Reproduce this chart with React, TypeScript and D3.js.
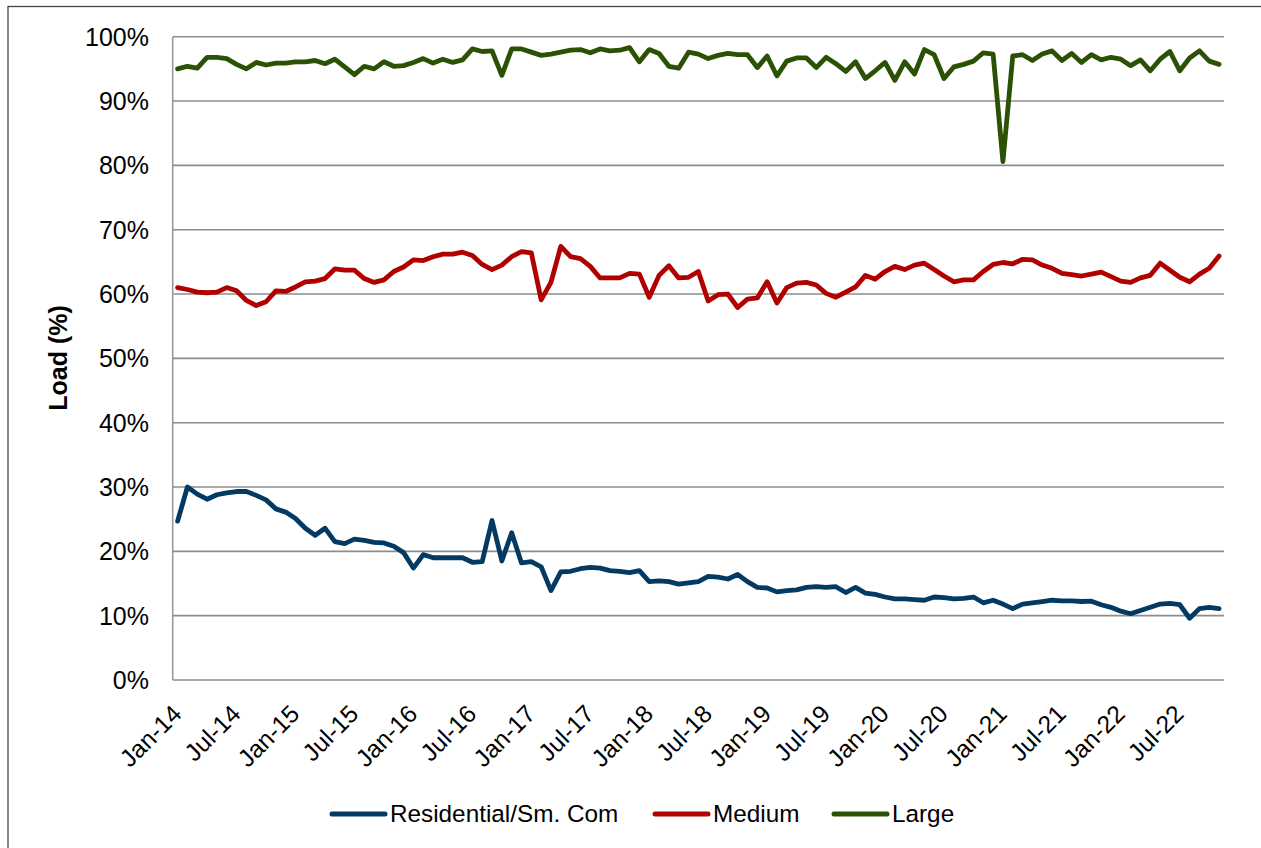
import React from "react";
import * as d3 from "d3";

const months: Date[] = d3.timeMonth.range(new Date(2014, 0, 1), new Date(2022, 11, 1));

const residential: number[] = [
  24.7, 30.0, 28.9, 28.1, 28.8, 29.1, 29.3, 29.3, 28.7, 28.0, 26.6, 26.1,
  25.1, 23.6, 22.5, 23.6, 21.5, 21.2, 21.9, 21.7, 21.4, 21.3, 20.8, 19.8,
  17.4, 19.5, 19.0, 19.0, 19.0, 19.0, 18.3, 18.4, 24.8, 18.5, 22.9, 18.2,
  18.4, 17.6, 13.9, 16.8, 16.9, 17.3, 17.5, 17.4, 17.0, 16.9, 16.7, 17.0,
  15.3, 15.4, 15.3, 14.9, 15.1, 15.3, 16.1, 16.0, 15.7, 16.4, 15.3, 14.4,
  14.3, 13.7, 13.9, 14.0, 14.4, 14.5, 14.4, 14.5, 13.6, 14.4, 13.5, 13.3,
  12.9, 12.6, 12.6, 12.5, 12.4, 12.9, 12.8, 12.6, 12.7, 12.9, 12.0, 12.4,
  11.8, 11.1, 11.8, 12.0, 12.2, 12.4, 12.3, 12.3, 12.2, 12.25, 11.7, 11.3,
  10.7, 10.3, 10.8, 11.3, 11.8, 11.9, 11.7, 9.6, 11.1, 11.3, 11.1,
];

const medium: number[] = [
  61.0, 60.7, 60.3, 60.2, 60.3, 61.0, 60.5, 59.0, 58.2, 58.8, 60.5, 60.4,
  61.1, 61.9, 62.0, 62.4, 63.9, 63.7, 63.7, 62.4, 61.8, 62.2, 63.5, 64.2,
  65.3, 65.2, 65.8, 66.2, 66.2, 66.5, 66.0, 64.6, 63.8, 64.5, 65.8, 66.6,
  66.4, 59.1, 61.8, 67.4, 65.8, 65.5, 64.3, 62.5, 62.5, 62.5, 63.2, 63.1,
  59.5, 62.9, 64.4, 62.5, 62.6, 63.5, 58.9, 59.9, 60.0, 57.9, 59.2, 59.4,
  61.9, 58.6, 61.0, 61.7, 61.8, 61.4, 60.1, 59.5, 60.3, 61.1, 62.9, 62.3,
  63.5, 64.3, 63.8, 64.5, 64.8, 63.8, 62.8, 61.9, 62.2, 62.2, 63.5, 64.6,
  64.9, 64.7, 65.4, 65.3, 64.5, 64.0, 63.2, 63.0, 62.8, 63.1, 63.4, 62.7,
  62.0, 61.8, 62.5, 62.9, 64.8, 63.7, 62.6, 61.9, 63.1, 64.0, 65.9,
];

const large: number[] = [
  95.0, 95.4, 95.1, 96.8, 96.8, 96.6, 95.7, 95.0, 96.0, 95.6, 95.9, 95.9,
  96.1, 96.1, 96.3, 95.8, 96.5, 95.3, 94.1, 95.4, 95.0, 96.1, 95.4, 95.5,
  96.0, 96.6, 95.9, 96.5, 96.0, 96.4, 98.1, 97.7, 97.8, 94.0, 98.1, 98.1,
  97.6, 97.1, 97.3, 97.6, 97.9, 98.0, 97.5, 98.1, 97.8, 97.9, 98.3, 96.1,
  98.0, 97.4, 95.4, 95.1, 97.6, 97.3, 96.6, 97.1, 97.4, 97.2, 97.2, 95.2,
  97.0, 93.9, 96.2, 96.7, 96.7, 95.2, 96.8, 95.8, 94.6, 96.1, 93.5, 94.7,
  96.0, 93.2, 96.1, 94.2, 98.0, 97.2, 93.5, 95.3, 95.7, 96.2, 97.5, 97.3,
  80.6, 97.0, 97.2, 96.3, 97.3, 97.8, 96.3, 97.4, 96.0, 97.2, 96.4, 96.8,
  96.5, 95.5, 96.4, 94.7, 96.5, 97.7, 94.7, 96.7, 97.8, 96.2, 95.7,
];

const seriesNames: string[] = ["Residential/Sm. Com", "Medium", "Large"];
const seriesColors: string[] = ["#023a64", "#b00000", "#2b5204"];
const yTicks: number[] = [0, 10, 20, 30, 40, 50, 60, 70, 80, 90, 100];
const yLabel = "Load (%)";

const W = 1261;
const H = 848;
const plotLeft = 172.7;
const plotRight = 1224;
const plotTop = 36.7;
const plotBottom = 680;
const FONT = "'Liberation Sans', Arial, sans-serif";

export default function App() {
  const x = d3
    .scaleBand<number>()
    .domain(months.map((_, i) => i))
    .range([plotLeft, plotRight])
    .paddingInner(0)
    .paddingOuter(0);
  const cx = (i: number) => (x(i) as number) + x.bandwidth() / 2;
  const y = d3.scaleLinear().domain([0, 100]).range([plotBottom, plotTop]);

  const line = d3
    .line<number>()
    .x((_, i) => cx(i))
    .y((d) => y(d));

  const series = [residential, medium, large];
  const fmt = d3.timeFormat("%b-%y");
  const tickIdx = months.map((_, i) => i).filter((i) => i % 6 === 0);

  const legendItems = [
    { lineX: 332, textX: 390 },
    { lineX: 655, textX: 713 },
    { lineX: 834, textX: 892 },
  ];

  return (
    <svg
      width={W}
      height={H}
      style={{ position: "absolute", left: 0, top: 0, display: "block", background: "#fff" }}
      fontFamily={FONT}
    >
      <rect x={8} y={6.5} width={1300} height={900} fill="#fff" stroke="#444" strokeWidth={1.3} />
      {yTicks.map((t) => (
        <line
          key={"g" + t}
          x1={plotLeft}
          x2={plotRight}
          y1={y(t)}
          y2={y(t)}
          stroke="#8c8c8c"
          strokeWidth={1.6}
        />
      ))}
      <line x1={plotLeft} x2={plotLeft} y1={plotTop} y2={plotBottom} stroke="#9a9a9a" strokeWidth={1.6} />
      {yTicks.map((t) => (
        <text
          key={"yl" + t}
          x={149}
          y={y(t)}
          dy="0.36em"
          textAnchor="end"
          fontSize={25}
          fill="#000"
        >
          {t + "%"}
        </text>
      ))}
      <text
        transform={`translate(67,358) rotate(-90)`}
        textAnchor="middle"
        fontSize={25}
        fontWeight="bold"
        fill="#000"
      >
        {yLabel}
      </text>
      {tickIdx.map((i) => (
        <text
          key={"xl" + i}
          transform={`translate(${cx(i) - 7},703) rotate(-45)`}
          textAnchor="end"
          dy="0.72em"
          fontSize={24.5}
          fill="#000"
        >
          {fmt(months[i])}
        </text>
      ))}
      {series.map((s, k) => (
        <path
          key={"s" + k}
          d={line(s) || ""}
          fill="none"
          stroke={seriesColors[k]}
          strokeWidth={4.8}
          strokeLinejoin="round"
          strokeLinecap="round"
        />
      ))}
      {seriesNames.map((n, k) => (
        <g key={"lg" + k}>
          <line
            x1={legendItems[k].lineX}
            x2={legendItems[k].lineX + 53}
            y1={814}
            y2={814}
            stroke={seriesColors[k]}
            strokeWidth={5}
            strokeLinecap="round"
          />
          <text x={legendItems[k].textX} y={822} fontSize={24.3} fill="#000">
            {n}
          </text>
        </g>
      ))}
    </svg>
  );
}
